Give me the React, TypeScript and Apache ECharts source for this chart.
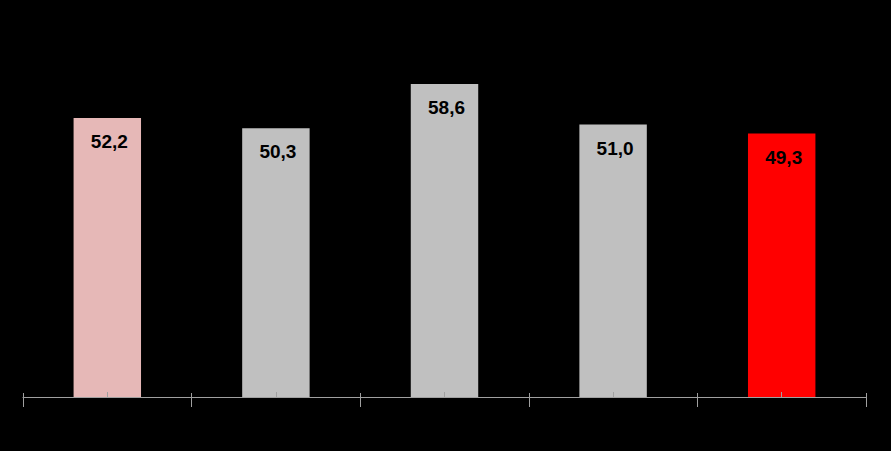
import React, { useEffect, useRef } from "react";
import * as echarts from "echarts";

const categories = ["A", "B", "C", "D", "E"];
const values = [52.2, 50.3, 58.6, 51.0, 49.3];
const barColors = ["#E6B8B7", "#C0C0C0", "#C0C0C0", "#C0C0C0", "#FF0000"];

export default function App() {
  const ref = useRef<HTMLDivElement>(null);
  useEffect(() => {
    document.body.style.margin = "0";
    document.body.style.background = "#000";
    const chart = echarts.init(ref.current!, undefined, { renderer: "svg" });
    const axisBase = {
      type: "category" as const,
      data: categories,
      axisLabel: { show: false },
      splitLine: { show: false },
    };
    chart.setOption({
      animation: false,
      backgroundColor: "#000000",
      grid: { left: 23, right: 25, top: 23, bottom: 54 },
      xAxis: [
        {
          ...axisBase,
          z: 5,
          axisLine: { show: true, lineStyle: { color: "#A0A0A0", width: 1 } },
          axisTick: { show: true, interval: 0, length: 10, lineStyle: { color: "#A0A0A0" } },
        },
        {
          ...axisBase,
          position: "bottom",
          z: 5,
          axisLine: { show: false },
          axisTick: { show: true, inside: true, interval: 0, length: 4, lineStyle: { color: "#A0A0A0" } },
        },
        {
          ...axisBase,
          position: "bottom",
          z: 5,
          axisLine: { show: false },
          axisTick: { show: true, inside: true, alignWithLabel: true, interval: 0, length: 5, lineStyle: { color: "#A0A0A0" } },
        },
      ],
      yAxis: {
        type: "value",
        min: 0,
        max: 70,
        show: false,
        splitLine: { show: false },
      },
      series: [
        {
          type: "bar",
          xAxisIndex: 0,
          barCategoryGap: "60%",
          data: values.map((v, i) => ({ value: v, itemStyle: { color: barColors[i] } })),
          label: {
            show: true,
            position: "insideTop",
            distance: 14,
            offset: [2, 0],
            color: "#000000",
            fontWeight: "bold",
            fontSize: 19,
            fontFamily: "Liberation Sans, Arial, sans-serif",
            formatter: (p: any) => p.value.toFixed(1).replace(".", ","),
          },
        },
      ],
    });
    return () => chart.dispose();
  }, []);
  return <div ref={ref} style={{ width: 891, height: 451, background: "#000" }} />;
}
